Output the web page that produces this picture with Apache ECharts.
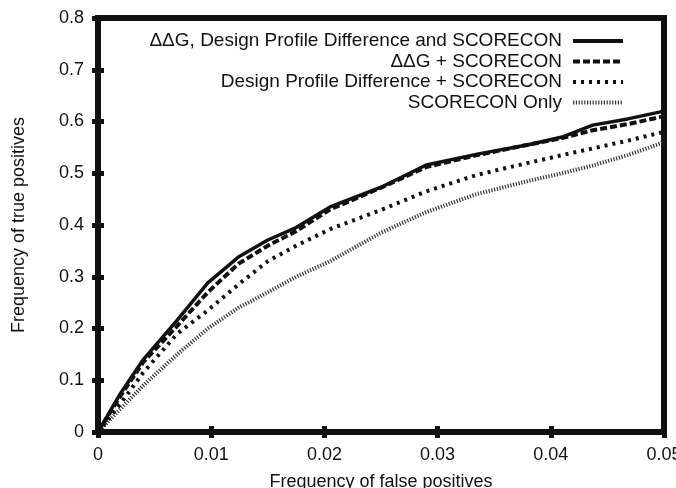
<!DOCTYPE html>
<html>
<head>
<meta charset="utf-8">
<script src="https://cdn.jsdelivr.net/npm/echarts@6/dist/echarts.min.js"></script>
<style>
  html, body { margin: 0; padding: 0; background: #fff; }
  #char { width: 676px; height: 488px; }
</style>
</head>
<body>
<div id="char"></div>
<script>
// false positive rate (x) sampled along the curves
const fpr = [0, 0.002, 0.004, 0.007, 0.0097, 0.0124, 0.015, 0.0175, 0.0205, 0.025, 0.029, 0.0335, 0.038, 0.041, 0.0437, 0.0468, 0.05]
// true positive rate for each method
const tprAll = [0, 0.075, 0.14, 0.216, 0.288, 0.338, 0.371, 0.395, 0.435, 0.473, 0.516, 0.537, 0.555, 0.57, 0.593, 0.605, 0.62]
const tprDdg = [0, 0.07, 0.135, 0.205, 0.27, 0.325, 0.36, 0.388, 0.43, 0.472, 0.512, 0.535, 0.555, 0.568, 0.583, 0.595, 0.61]
const tprDpd = [0, 0.055, 0.115, 0.19, 0.235, 0.285, 0.33, 0.36, 0.392, 0.429, 0.465, 0.497, 0.52, 0.535, 0.548, 0.563, 0.58]
const tprScore = [0, 0.045, 0.09, 0.15, 0.2, 0.24, 0.27, 0.3, 0.33, 0.385, 0.425, 0.46, 0.485, 0.5, 0.515, 0.535, 0.56]

const names = [
  'ΔΔG, Design Profile Difference and SCORECON',
  'ΔΔG + SCORECON',
  'Design Profile Difference + SCORECON',
  'SCORECON Only'
]

const font = 'Liberation Sans, Arial, sans-serif'
const ink = '#111'

function pairs(ys) {
  return fpr.map((x, i) => [x, ys[i]])
}

const styles = [
  { width: 3.5, type: 'solid', color: ink },
  { width: 4, type: [7, 3], color: ink },
  { width: 4, type: [3, 5], color: ink },
  { width: 4, type: [1.2, 1.6], color: '#333' }
]

const myChart = echarts.init(document.getElementById('char'))

let tickCommon = {
  axisLine: { show: false },
  splitLine: { show: false }
}
let tickStyle = { inside: true, length: 6, lineStyle: { width: 5, color: ink } }

let option = {
  animation: false,
  grid: {
    left: 98, right: 12, top: 18, bottom: 56,
    outerBoundsMode: 'none',
    containLabel: false,
    show: true, borderColor: ink, borderWidth: 6, backgroundColor: 'transparent'
  },
  legend: {
    orient: 'vertical',
    right: 51,
    top: 31,
    padding: 0,
    align: 'right',
    itemWidth: 50,
    itemHeight: 14,
    itemGap: 0.5,
    itemStyle: { opacity: 0 },
    lineStyle: { width: 4 },
    textStyle: { fontFamily: font, fontSize: 19, lineHeight: 20, color: ink, padding: [0, 6, 0, 0] },
    data: names
  },
  xAxis: [
    Object.assign({
      type: 'value', min: 0, max: 0.05, interval: 0.01,
      name: 'Frequency of false positives', nameLocation: 'middle', nameGap: 41,
      nameTextStyle: { fontFamily: font, fontSize: 18, color: ink },
      axisTick: tickStyle,
      axisLabel: { fontFamily: font, fontSize: 18, color: ink, margin: 14,
        formatter: v => v === 0 ? '0' : String(+v.toFixed(2)) }
    }, tickCommon),
    Object.assign({
      type: 'value', min: 0, max: 0.05, interval: 0.01, position: 'top',
      axisTick: tickStyle,
      axisLabel: { show: false }
    }, tickCommon)
  ],
  yAxis: [
    Object.assign({
      type: 'value', min: 0, max: 0.8, interval: 0.1,
      name: 'Frequency of true positives', nameLocation: 'middle', nameGap: 70,
      nameTextStyle: { fontFamily: font, fontSize: 18, color: ink },
      axisTick: tickStyle,
      axisLabel: { fontFamily: font, fontSize: 18, color: ink, margin: 14,
        formatter: v => v === 0 ? '0' : String(+v.toFixed(1)) }
    }, tickCommon),
    Object.assign({
      type: 'value', min: 0, max: 0.8, interval: 0.1, position: 'right',
      axisTick: tickStyle,
      axisLabel: { show: false }
    }, tickCommon)
  ],
  series: []
}

const data = [tprAll, tprDdg, tprDpd, tprScore]
data.forEach((ys, i) => {
  option.series.push({
    name: names[i],
    type: 'line',
    data: pairs(ys),
    showSymbol: false,
    symbol: 'none',
    z: 10 - i,
    lineStyle: styles[i],
    itemStyle: { color: styles[i].color }
  })
})

myChart.setOption(option)
</script>
</body>
</html>
